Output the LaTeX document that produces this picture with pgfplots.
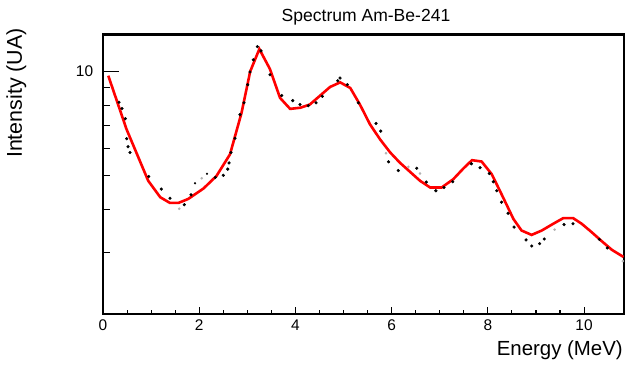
\documentclass[border=0pt]{standalone}
\usepackage{pgfplots}
\pgfplotsset{compat=1.18}
\usepackage{fontspec}
\setmainfont{Liberation Sans}
\begin{document}
\begin{tikzpicture}
\begin{axis}[
  at={(0,0)}, anchor=south west, scale only axis,
  width=521bp, height=279.3bp,
  xmin=0, xmax=10.83, ymode=log, ymin=2, ymax=12.76,
  tick align=inside,
  tick style={black, line width=1.1bp},
  /pgf/number format/assume math mode=true,
  axis line style={line width=2.4bp},
  xtick={0,2,4,6,8,10}, minor x tick num=3,
  ytick=\empty, minor y tick num=0,
  xtick pos=left,
  major tick length=7bp, minor tick length=4bp,
  xticklabel style={anchor=north, inner sep=0pt, yshift=-6bp, font=\fontsize{15.5}{16}\selectfont},
]
\addplot[red, line width=2.6bp] coordinates {
(0.11,9.72) (0.49,6.81) (0.94,4.84) (1.19,4.34) (1.39,4.18) (1.57,4.18)
(1.77,4.29) (2.09,4.60) (2.36,5.00) (2.64,5.77) (2.88,7.60) (3.06,10.0)
(3.25,11.6) (3.47,10.16) (3.68,8.39) (3.89,7.80) (4.10,7.86) (4.30,8.03)
(4.72,9.02) (4.93,9.30) (5.14,8.96) (5.34,8.03) (5.55,7.04) (5.76,6.37)
(5.97,5.84) (6.17,5.46) (6.38,5.14) (6.59,4.84) (6.80,4.63) (7.04,4.63)
(7.28,4.89) (7.49,5.25) (7.67,5.55) (7.87,5.50) (8.08,5.06) (8.25,4.53)
(8.43,4.02) (8.53,3.76) (8.70,3.48) (8.91,3.38) (9.12,3.48) (9.36,3.64)
(9.57,3.78) (9.77,3.78) (9.95,3.64) (10.16,3.44) (10.37,3.24) (10.58,3.06)
(10.82,2.92)
};
\addplot[only marks, mark=*, mark size=1.4bp, black] coordinates {
(0.333,8.15) (0.395,7.82) (0.464,7.31) (0.493,6.40) (0.520,6.07) (0.561,5.84)
(0.950,4.98) (1.212,4.58) (1.393,4.31) (1.690,4.13) (1.830,4.41)
(2.335,4.95) (2.501,5.02) (2.593,5.23) (2.620,5.45) (2.661,5.84)
(2.744,6.42) (2.848,7.51) (2.931,8.12) (3.008,9.16) (3.056,9.96) (3.125,10.80)
(3.208,11.79) (3.285,11.46) (3.472,9.78) (3.715,8.52) (3.944,8.24) (4.096,8.03)
(4.268,7.97) (4.428,8.12) (4.559,8.48) (4.879,9.40) (4.927,9.57) (5.079,9.16)
(5.308,8.12) (5.676,7.08) (5.773,6.73) (5.936,5.49) (6.139,5.18) (6.522,5.26)
(6.721,4.80) (6.919,4.53) (7.089,4.63) (7.270,4.81) (7.657,5.42) (7.838,5.28)
(8.031,5.08) (8.114,4.81) (8.185,4.53) (8.285,4.20) (8.420,3.90) (8.545,3.56)
(8.794,3.27) (8.913,3.14) (9.075,3.19) (9.173,3.29) (9.584,3.62) (9.771,3.64)
(10.318,3.28) (10.484,3.10)
};
\addplot[only marks, mark=*, mark size=0.9bp, black] coordinates {
(1.913,4.76) (2.162,5.07)
};
\addplot[only marks, mark=*, mark size=1.1bp, gray!60] coordinates {
(1.586,4.02) (2.052,4.92) (5.884,5.81) (6.347,5.31) (6.590,5.08) (9.387,3.50) (10.805,2.84)
};
\end{axis}
\begin{axis}[
  at={(0,0)}, anchor=south west, scale only axis,
  width=521bp, height=279.3bp,
  xmin=0, xmax=10.83, ymode=log, ymin=2, ymax=12.76,
  tick align=inside,
  tick style={black, line width=1.1bp},
  hide x axis, axis line style={draw=none},
  ytick={10}, yticklabels={10}, minor ytick={2,3,4,5,6,7,8,9},
  ytick pos=left,
  major tick length=16bp, minor tick length=7bp,
  yticklabel style={anchor=east, inner sep=0pt, xshift=-9.7bp, font=\fontsize{15.5}{16}\selectfont},
]
\end{axis}
\node[anchor=base, inner sep=0pt, font=\fontsize{17.6}{20}\selectfont] at (263bp,292bp) {Spectrum Am-Be-241};
\node[anchor=base east, inner sep=0pt, font=\fontsize{20.5}{22}\selectfont] at (520bp,-41.7bp) {Energy (MeV)};
\node[rotate=90, anchor=base east, inner sep=0pt, font=\fontsize{21.5}{23}\selectfont] at (-81bp,286bp) {Intensity (UA)};
\pgfresetboundingbox
\path[use as bounding box] (-103bp,-51bp) rectangle (523bp,314bp);
\end{tikzpicture}
\end{document}
